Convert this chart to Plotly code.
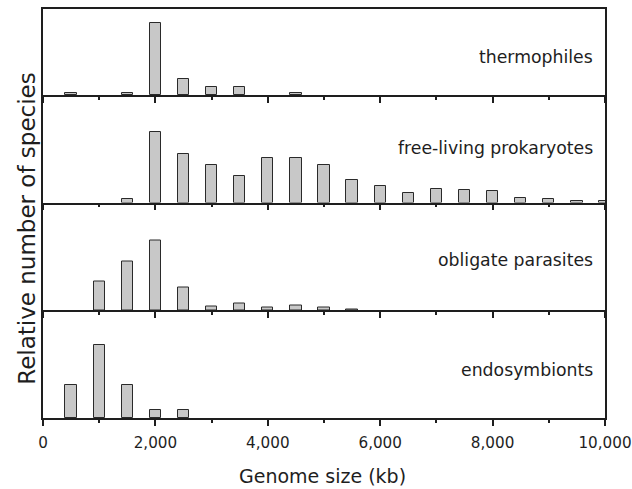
import plotly.graph_objects as go
from plotly.subplots import make_subplots

# ---- data (relative number of species, arbitrary units) ----
panel_names = ["thermophiles", "free-living prokaryotes", "obligate parasites", "endosymbionts"]

thermo_x = [500, 1500, 2000, 2500, 3000, 3500, 4500]
thermo_y = [1.7, 1.7, 72, 15.7, 7.7, 7.7, 1.7]

free_x = [1500, 2000, 2500, 3000, 3500, 4000, 4500, 5000, 5500, 6000,
          6500, 7000, 7500, 8000, 8500, 9000, 9500, 10000]
free_y = [3.3, 71, 48.3, 37.3, 27, 44.3, 44.3, 38, 22.7, 17,
          10, 13.3, 12.7, 11.7, 4.3, 3.3, 2, 1.5]

oblig_x = [1000, 1500, 2000, 2500, 3000, 3500, 4000, 4500, 5000, 5500]
oblig_y = [28.3, 49, 70, 22.3, 3.3, 6.7, 3, 4.3, 3, 1]

endo_x = [500, 1000, 1500, 2000, 2500]
endo_y = [32.7, 72.7, 32.7, 8.3, 8.3]

tick_vals = [0, 2000, 4000, 6000, 8000, 10000]
tick_text = ["0", "2,000", "4,000", "6,000", "8,000", "10,000"]
minor_vals = [1000, 3000, 5000, 7000, 9000]

series = [(thermo_x, thermo_y), (free_x, free_y), (oblig_x, oblig_y), (endo_x, endo_y)]

# ---- layout ----
panel_px = [86, 107.5, 107.5, 108]
label_frac = [0.44, 0.507, 0.465, 0.444]
FONT = "DejaVu Sans"
INK = "#1e1e1e"

fig = make_subplots(rows=4, cols=1, shared_xaxes=True, vertical_spacing=0,
                    row_heights=panel_px)

for i, (xs, ys) in enumerate(series):
    fig.add_trace(go.Bar(x=xs, y=ys, width=200,
                         marker=dict(color="#c8c8c8", line=dict(color="#2a2a2a", width=1)),
                         showlegend=False, hoverinfo="skip"),
                  row=i + 1, col=1)
    fig.update_yaxes(range=[0, panel_px[i]], showline=True, mirror=True,
                     linecolor=INK, linewidth=1.5, ticks="", showticklabels=False,
                     showgrid=False, zeroline=False, automargin=False, row=i + 1, col=1)
    fig.update_xaxes(range=[0, 10000], showline=True, mirror=(i == 0),
                     linecolor=INK, linewidth=1.5, showgrid=False, zeroline=False,
                     tickmode="array", tickvals=tick_vals, ticktext=tick_text,
                     ticks="outside", ticklen=6, tickwidth=1.5, tickcolor=INK,
                     minor=dict(tickmode="array", tickvals=minor_vals, ticks="outside",
                                ticklen=3, tickwidth=1.5, tickcolor=INK, showgrid=False),
                     showticklabels=(i == 3), ticklabelstandoff=4,
                     ticklabeloverflow="allow", automargin=False,
                     tickfont=dict(family=FONT, size=15.2, color=INK),
                     row=i + 1, col=1)
    axn = "" if i == 0 else str(i + 1)
    fig.add_annotation(text=panel_names[i], xref=f"x{axn} domain", yref=f"y{axn} domain",
                       x=0.982, y=label_frac[i], xanchor="right", yanchor="middle",
                       showarrow=False, font=dict(family=FONT, size=17.3, color=INK))

fig.add_annotation(text="Relative number of species", xref="paper", yref="paper",
                   x=-0.030, y=0.463, textangle=-90, xanchor="center", yanchor="middle",
                   showarrow=False, font=dict(family=FONT, size=23, color=INK))
fig.add_annotation(text="Genome size (kb)", xref="paper", yref="paper",
                   x=0.497, y=-0.1415, xanchor="center", yanchor="middle",
                   showarrow=False, font=dict(family=FONT, size=19, color=INK))

fig.update_layout(width=632, height=489, margin=dict(l=43, r=27, t=9, b=71, autoexpand=False),
                  paper_bgcolor="white", plot_bgcolor="white", bargap=0)

# remove the default page margin so the figure fills the window exactly
fig.write_html("out.html", config={"displayModeBar": False},
               post_script="document.body.style.margin='0';document.body.style.overflow='hidden';")
